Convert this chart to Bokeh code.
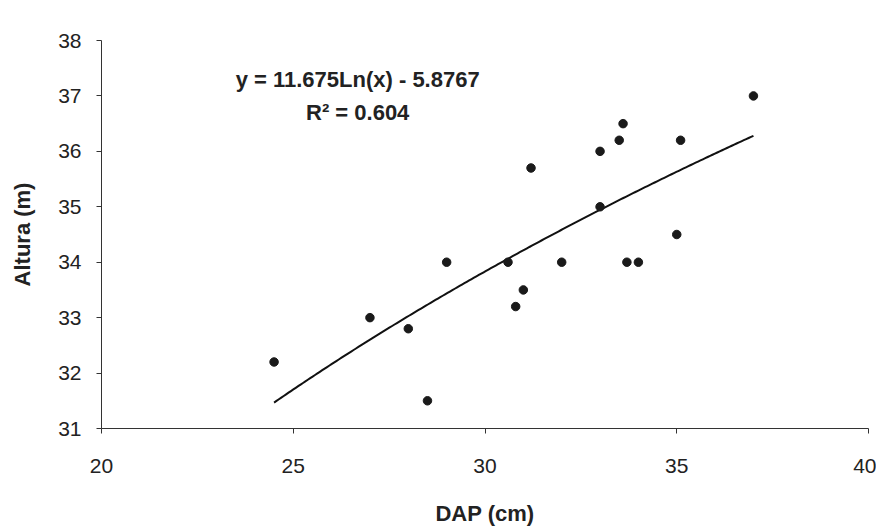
import numpy as np
from bokeh.plotting import figure
from bokeh.models import ColumnDataSource, FixedTicker, Range1d
from bokeh.core.properties import value
from bokeh.embed import file_html
from bokeh.resources import INLINE

# Data
dap = [24.5, 27.0, 28.0, 28.5, 29.0, 30.6, 30.8, 31.0, 31.2, 32.0,
       33.0, 33.0, 33.5, 33.6, 33.7, 34.0, 35.0, 35.1, 37.0]
altura = [32.2, 33.0, 32.8, 31.5, 34.0, 34.0, 33.2, 33.5, 35.7, 34.0,
          36.0, 35.0, 36.2, 36.5, 34.0, 34.0, 34.5, 36.2, 37.0]

x_ticks = [20, 25, 30, 35, 40]
y_ticks = [31, 32, 33, 34, 35, 36, 37, 38]

# Logarithmic trendline coefficients shown on the chart
coef_a = 11.675
coef_b = -5.8767
eq_lines = ["y = 11.675Ln(x) - 5.8767", "R\u00b2 = 0.604"]

FONT = "Liberation Sans"
INK = "#222222"

p = figure(width=876, height=528, output_backend="svg", toolbar_location=None,
           x_range=Range1d(20, 40), y_range=Range1d(31, 38),
           min_border_left=101, min_border_right=8, min_border_top=40,
           min_border_bottom=96)
p.outline_line_color = None
p.xgrid.visible = False
p.ygrid.visible = False
p.background_fill_color = "white"

# Trendline
xs = np.linspace(min(dap), max(dap), 200)
ys = coef_a * np.log(xs) + coef_b
p.line(xs, ys, line_color="#111111", line_width=2)

# Points
src = ColumnDataSource(data=dict(x=dap, y=altura))
p.scatter("x", "y", source=src, size=8.5, fill_color="#1a1a1a", line_color="#1a1a1a")

# Equation text
p.text(x=[26.68, 26.68], y=[37.30, 36.71], text=eq_lines,
       text_font=value(FONT), text_font_style="bold", text_font_size="22px",
       text_color=INK, text_align="center", text_baseline="middle")

for ax in (p.xaxis[0], p.yaxis[0]):
    ax.axis_line_color = "#333333"
    ax.axis_line_width = 1
    ax.major_tick_line_color = "#333333"
    ax.major_tick_in = 0
    ax.major_tick_out = 5
    ax.minor_tick_line_color = None
    ax.major_label_text_font = FONT
    ax.major_label_text_font_size = "21px"
    ax.major_label_text_color = INK
    ax.axis_label_text_font = FONT
    ax.axis_label_text_font_style = "bold"
    ax.axis_label_text_font_size = "22px"
    ax.axis_label_text_color = INK

p.xaxis[0].ticker = FixedTicker(ticks=x_ticks)
p.yaxis[0].ticker = FixedTicker(ticks=y_ticks)
p.xaxis[0].axis_label = "DAP (cm)"
p.yaxis[0].axis_label = "Altura (m)"
p.xaxis[0].major_label_standoff = 25
p.xaxis[0].axis_label_standoff = 25
p.yaxis[0].major_label_standoff = 15
p.yaxis[0].axis_label_standoff = 20

open("out.html", "w").write(file_html(p, INLINE))
